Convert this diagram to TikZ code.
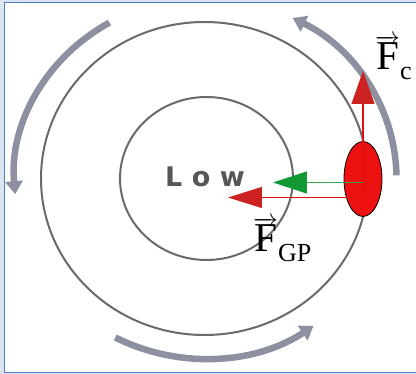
\documentclass[tikz,border=0pt]{standalone}
\usepackage{fontspec}
\setmainfont{Liberation Serif}
\newfontfamily\lowfont{DejaVu Sans}
\usetikzlibrary{arrows.meta,shapes.geometric}
\definecolor{frameblue}{HTML}{4F7FC4}
\definecolor{paleblue}{HTML}{DBE4F0}
\definecolor{ringgray}{HTML}{6A6A6A}
\definecolor{flowgray}{HTML}{8C90A1}
\definecolor{parcel}{HTML}{EE1111}
\definecolor{forcered}{HTML}{CC2222}
\definecolor{redline}{HTML}{E01010}
\definecolor{forcegreen}{HTML}{119933}
\newcommand{\vecF}{\ensuremath{\overrightarrow{\hbox{F}}}}
\begin{document}
\begin{tikzpicture}[x=1pt,y=1pt,
  ring/.style={draw=ringgray,line width=2pt},
  flow/.style={draw=flowgray,line width=6.5pt,-{Triangle[length=13pt,width=17pt]}},
  force/.style={line width=1.2pt},
  lbl/.style={anchor=base west,inner sep=0pt,font=\fontsize{41}{41}\selectfont}]
\useasboundingbox (-204.5,-195.5) rectangle (211.5,178.5);
\fill[paleblue] (-204.5,-195.5) rectangle (211.5,178.5);
\draw[fill=white,draw=frameblue,line width=1.5pt] (-200,176) rectangle (216,-194);
% isobars round the low
\draw[ring] (0,0) ellipse[x radius=163.5pt,y radius=156.5pt];
\draw[ring] (2,0) ellipse[x radius=86.5pt,y radius=81.5pt];
\node[font=\lowfont\bfseries\fontsize{27}{27}\selectfont,text=black!66,anchor=base] (low) at (0.5,-8) {L o w};
% wind turning counter-clockwise
\draw[flow] (120:190pt and 180pt) arc[start angle=120,end angle=185,x radius=190pt,y radius=180pt];
\draw[flow] (1:192pt and 180pt) arc[start angle=1,end angle=63,x radius=190pt,y radius=180pt];
\draw[flow] (242:190pt and 180pt) arc[start angle=242,end angle=305,x radius=190pt,y radius=180pt];
% parcel and forces
\node[ellipse,draw=black,line width=0.8pt,fill=parcel,minimum width=38pt,minimum height=75pt,inner sep=0pt] (air) at (158.5,-0.5) {};
\coordinate (redbase) at (158.5,-19);
\coordinate (greenbase) at (158.5,-4);
\coordinate (fctip) at (158.5,107.5);
\coordinate (fgptip) at (23.5,-19);
\coordinate (cortip) at (68.5,-4);
\draw[force,draw=redline,-{Triangle[length=33pt,width=23pt,color=forcered]}] (redbase) -- (fctip);
\draw[force,draw=redline,-{Triangle[length=34pt,width=21pt,color=forcered]}] (redbase) -- (fgptip);
\draw[force,draw=forcegreen!85!white,-{Triangle[length=34pt,width=22pt,color=forcegreen]}] (greenbase) -- (cortip);
\node[lbl] (fc) at (170.5,108.5) {\vecF\raisebox{-10pt}{\fontsize{26}{26}\selectfont c}};
\node[lbl] (fgp) at (48.5,-73.5) {\vecF\raisebox{-10pt}{\fontsize{26}{26}\selectfont GP}};
\end{tikzpicture}
\end{document}
